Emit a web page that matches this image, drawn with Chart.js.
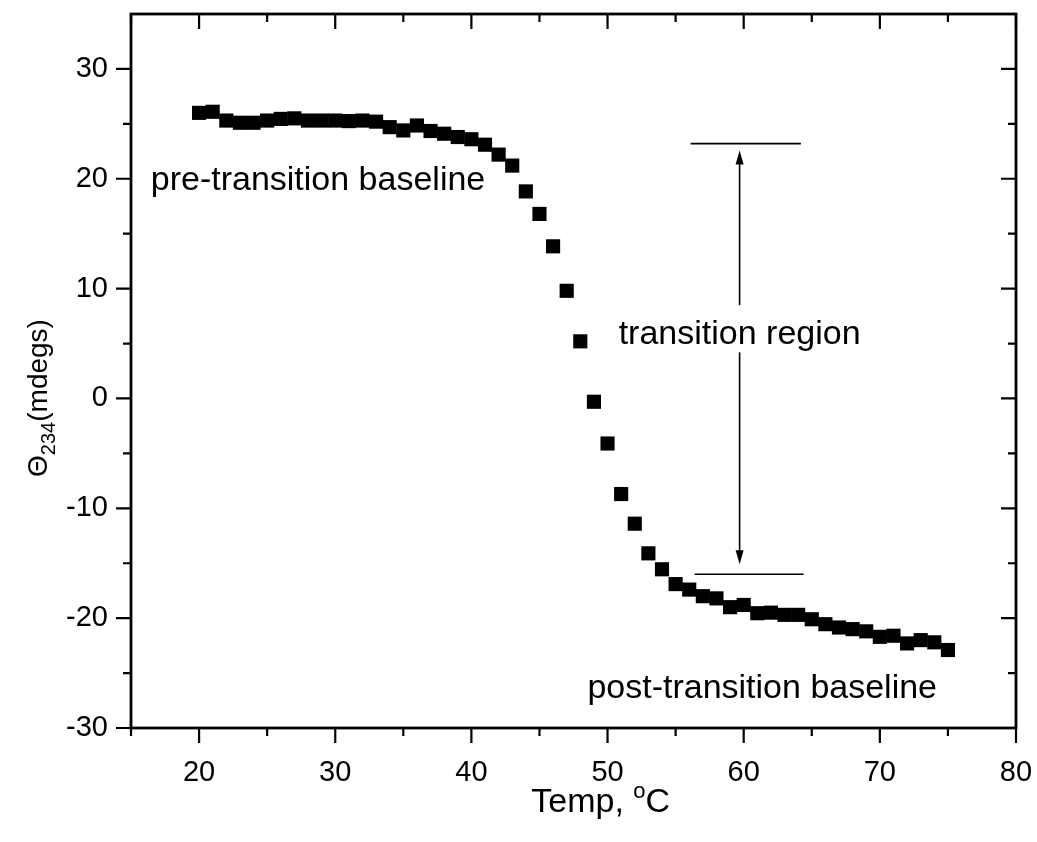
<!DOCTYPE html>
<html>
<head>
<meta charset="utf-8">
<script src="https://cdn.jsdelivr.net/npm/chart.js@4.4.0/dist/chart.umd.min.js"></script>
<style>
  html, body { margin: 0; padding: 0; background: #fff; }
  #wrap { width: 1037px; height: 842px; }
</style>
</head>
<body>
<div id="wrap"><canvas id="chart" width="1037" height="842"></canvas></div>
<script>
// temperature (°C) and ellipticity at 234 nm (mdeg)
const TEMPS = [
  20, 21, 22, 23, 24, 25, 26, 27, 28, 29,
  30, 31, 32, 33, 34, 35, 36, 37, 38, 39,
  40, 41, 42, 43, 44, 45, 46, 47, 48, 49,
  50, 51, 52, 53, 54, 55, 56, 57, 58, 59,
  60, 61, 62, 63, 64, 65, 66, 67, 68, 69,
  70, 71, 72, 73, 74, 75,
];
const THETA = [
  26.0, 26.1, 25.3, 25.1, 25.1, 25.3, 25.45, 25.5, 25.3, 25.3,
  25.3, 25.25, 25.3, 25.2, 24.7, 24.4, 24.85, 24.35, 24.1, 23.8,
  23.6, 23.1, 22.2, 21.2, 18.85, 16.8, 13.85, 9.8, 5.2, -0.3,
  -4.1, -8.7, -11.4, -14.1, -15.55, -16.9, -17.4, -18.0, -18.2, -19.0,
  -18.8, -19.55, -19.5, -19.7, -19.7, -20.1, -20.55, -20.85, -21.0, -21.2,
  -21.7, -21.6, -22.3, -22.0, -22.2, -22.9,
];

const X_MAJOR = [20, 30, 40, 50, 60, 70, 80];
const X_MINOR = [15, 25, 35, 45, 55, 65, 75];
const Y_MAJOR = [-30, -20, -10, 0, 10, 20, 30];
const Y_MINOR = [-25, -15, -5, 5, 15, 25];

// annotation bars and arrows, in data units
const BAR_TOP = { x0: 56.1, x1: 64.2, y: 23.2 };
const BAR_BOTTOM = { x0: 56.4, x1: 64.4, y: -16.0 };
const ARROW_X = 59.7;
const ARROW_UP = { from: 8.5, to: 23.2 };
const ARROW_DOWN = { from: 4.2, to: -16.0 };

const FONT = "'Liberation Sans', Arial, sans-serif";

const frame = {
  id: "frame",
  afterDraw(chart) {
    const { ctx, chartArea: a, scales: { x, y } } = chart;
    ctx.save();
    ctx.strokeStyle = "#000";
    ctx.lineWidth = 2.8;
    ctx.strokeRect(a.left, a.top, a.right - a.left, a.bottom - a.top);
    ctx.lineWidth = 2.2;
    ctx.beginPath();
    const xt = (v, len) => {
      const px = x.getPixelForValue(v);
      ctx.moveTo(px, a.bottom); ctx.lineTo(px, a.bottom + len);
      ctx.moveTo(px, a.top); ctx.lineTo(px, a.top + len);
    };
    const yt = (v, len) => {
      const py = y.getPixelForValue(v);
      ctx.moveTo(a.left, py); ctx.lineTo(a.left - len, py);
      ctx.moveTo(a.right, py); ctx.lineTo(a.right - len, py);
    };
    X_MAJOR.forEach((v) => xt(v, 15));
    X_MINOR.forEach((v) => xt(v, 8));
    Y_MAJOR.forEach((v) => yt(v, 15));
    Y_MINOR.forEach((v) => yt(v, 8));
    ctx.stroke();
    ctx.restore();
  },
};

function arrow(ctx, px, y0, y1) {
  const dir = y1 < y0 ? -1 : 1;
  ctx.beginPath();
  ctx.moveTo(px, y0);
  ctx.lineTo(px, y1 - dir * 10);
  ctx.stroke();
  ctx.beginPath();
  ctx.moveTo(px, y1);
  ctx.lineTo(px - 4, y1 - dir * 14);
  ctx.lineTo(px + 4, y1 - dir * 14);
  ctx.closePath();
  ctx.fill();
}

const notes = {
  id: "notes",
  afterDraw(chart) {
    const { ctx, scales: { x, y } } = chart;
    ctx.save();
    ctx.strokeStyle = "#000";
    ctx.fillStyle = "#000";
    ctx.lineWidth = 1.6;
    for (const b of [BAR_TOP, BAR_BOTTOM]) {
      ctx.beginPath();
      ctx.moveTo(x.getPixelForValue(b.x0), y.getPixelForValue(b.y));
      ctx.lineTo(x.getPixelForValue(b.x1), y.getPixelForValue(b.y));
      ctx.stroke();
    }
    const ax = x.getPixelForValue(ARROW_X);
    arrow(ctx, ax, y.getPixelForValue(ARROW_UP.from), y.getPixelForValue(ARROW_UP.to) + 7);
    arrow(ctx, ax, y.getPixelForValue(ARROW_DOWN.from), y.getPixelForValue(ARROW_DOWN.to) - 10);

    ctx.font = `34px ${FONT}`;
    ctx.textBaseline = "middle";
    ctx.textAlign = "left";
    ctx.fillText("pre-transition baseline", x.getPixelForValue(16.45), y.getPixelForValue(19.8));
    ctx.textAlign = "center";
    ctx.fillText("transition region", ax, y.getPixelForValue(5.8));
    ctx.textAlign = "right";
    ctx.fillText("post-transition baseline", x.getPixelForValue(74.2), y.getPixelForValue(-26.4));
    ctx.restore();
  },
};

// draws text runs with sub/superscripts, centred on (0,0) of the current transform
function runs(ctx, parts) {
  const widths = parts.map((p) => {
    ctx.font = `${p.size}px ${FONT}`;
    return ctx.measureText(p.text).width;
  });
  let cx = -widths.reduce((s, w) => s + w, 0) / 2;
  parts.forEach((p, i) => {
    ctx.font = `${p.size}px ${FONT}`;
    ctx.fillText(p.text, cx, p.dy || 0);
    cx += widths[i];
  });
}

const titles = {
  id: "titles",
  afterDraw(chart) {
    const { ctx, scales: { x } } = chart;
    ctx.save();
    ctx.fillStyle = "#000";
    ctx.textBaseline = "alphabetic";
    ctx.textAlign = "left";
    ctx.translate(x.getPixelForValue(49.5), 812);
    runs(ctx, [
      { text: "Temp, ", size: 34 },
      { text: "o", size: 22, dy: -14 },
      { text: "C", size: 34 },
    ]);
    ctx.restore();

    ctx.save();
    ctx.fillStyle = "#000";
    ctx.textBaseline = "alphabetic";
    ctx.textAlign = "left";
    ctx.translate(47, 398);
    ctx.rotate(-Math.PI / 2);
    runs(ctx, [
      { text: "Θ", size: 28 },
      { text: "234", size: 20, dy: 8 },
      { text: "(mdegs)", size: 28 },
    ]);
    ctx.restore();
  },
};

const tickFont = { family: FONT, size: 29 };

new Chart(document.getElementById("chart"), {
  type: "scatter",
  data: {
    datasets: [{
      data: TEMPS.map((t, i) => ({ x: t, y: THETA[i] })),
      pointStyle: "rect",
      pointRadius: 10,
      pointHoverRadius: 10,
      backgroundColor: "#000",
      borderColor: "#000",
      borderWidth: 0,
    }],
  },
  options: {
    responsive: false,
    animation: false,
    devicePixelRatio: 1,
    layout: { padding: { top: 14, right: 21, left: 0, bottom: 0 } },
    plugins: { legend: { display: false }, tooltip: { enabled: false } },
    scales: {
      x: {
        type: "linear", min: 15, max: 80,
        ticks: { stepSize: 10, includeBounds: false, color: "#000", font: tickFont, padding: 20, maxRotation: 0 },
        grid: { display: false }, border: { display: false },
        afterFit: (s) => { s.height = 114; s.paddingLeft = 0; s.paddingRight = 0; },
      },
      y: {
        type: "linear", min: -30, max: 35,
        ticks: { stepSize: 10, includeBounds: false, color: "#000", font: tickFont, padding: 15 },
        grid: { display: false }, border: { display: false },
        afterFit: (s) => { s.width = 131; s.paddingTop = 0; s.paddingBottom = 0; },
      },
    },
  },
  plugins: [frame, notes, titles],
});
</script>
</body>
</html>
